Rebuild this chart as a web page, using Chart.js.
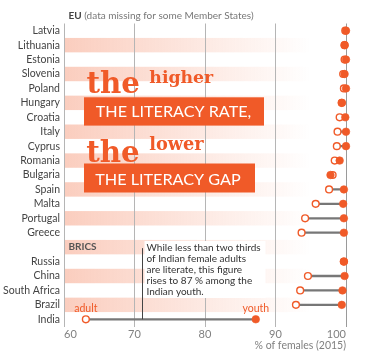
<!DOCTYPE html>
<html><head><meta charset="utf-8">
<script src="https://cdn.jsdelivr.net/npm/chart.js@4"></script>
<style>html,body{margin:0;padding:0;background:#fff;}#wrap{width:370px;height:358px;position:relative}</style>
</head><body><div id="wrap"><canvas id="c" width="370" height="358"></canvas></div>
<script>
// ---- data ----
const categories = ['Latvia','Lithuania','Estonia','Slovenia','Poland','Hungary','Croatia','Italy','Cyprus','Romania','Bulgaria','Spain','Malta','Portugal','Greece','','Russia','China','South Africa','Brazil','India'];
const groupLabels = ['EU','BRICS'];
const youth = [100,99.8,100,99.8,100,99.4,99.9,100,100,99.1,97.8,99.7,99.6,99.7,99.7,null,99.7,99.8,99.5,99.4,87.2];
const adult = [99.9,99.8,99.8,99.6,99.7,99.4,99.1,98.8,98.7,98.4,98.1,97.6,95.7,94.2,93.7,null,99.7,94.6,93.5,92.9,63.1];
const xTicks = [60,70,80,90,100];
const seriesNames = ['adult','youth'];
const noteLines = ['While less than two thirds','of Indian female adults','are literate, this figure','rises to 87 % among the','Indian youth.'];

const ORANGE = '#f05a28';
const SANS = 'Lato, "Open Sans", sans-serif';
const SERIF = '"DejaVu Serif", serif';
const connectors = categories.map((c,i)=> (adult[i]==null||youth[i]==null) ? null : [adult[i], youth[i]]);
const bricsIndex = categories.indexOf('');

function fitFont(ctx, text, weight, family, targetW){
  ctx.font = weight + ' 100px ' + family;
  const w = ctx.measureText(text).width;
  return weight + ' ' + (100*targetW/w).toFixed(2) + 'px ' + family;
}

const decor = {
  id:'decor',
  beforeDraw(chart){
    const {ctx, chartArea:a, scales:{x,y}} = chart;
    const h = y.getPixelForValue(1) - y.getPixelForValue(0);
    ctx.save();
    for (let i=1;i<categories.length;i+=2){
      const yc = y.getPixelForValue(i);
      const g = ctx.createLinearGradient(a.left,0,x.getPixelForValue(95),0);
      g.addColorStop(0,'rgba(240,90,40,0.30)');
      g.addColorStop(1,'rgba(240,90,40,0)');
      ctx.fillStyle = g;
      ctx.fillRect(a.left, yc-h/2, x.getPixelForValue(95)-a.left, h);
    }
    ctx.restore();
  },
  afterDraw(chart){
    const {ctx, chartArea:a, scales:{x,y}} = chart;
    ctx.save();
    // header
    ctx.textBaseline='middle';
    ctx.font = 'bold 10px '+SANS; ctx.fillStyle='#444';
    ctx.fillText(groupLabels[0], a.left+4.5, 15.7);
    const w0 = ctx.measureText(groupLabels[0]).width;
    ctx.font = '10px '+SANS; ctx.fillStyle='#777';
    ctx.fillText(' (data missing for some Member States)', a.left+4.5+w0, 15.7);
    // BRICS
    ctx.font = 'bold 10px '+SANS; ctx.fillStyle='#555';
    ctx.fillText(groupLabels[1], a.left+4.5, y.getPixelForValue(bricsIndex));
    // note box
    ctx.fillStyle='#fff';
    ctx.fillRect(144.5, 241, 121, 57);
    ctx.strokeStyle='#444'; ctx.lineWidth=1;
    const lx = Math.round(x.getPixelForValue(71.1))+0.5;
    ctx.beginPath(); ctx.moveTo(lx, y.getPixelForValue(bricsIndex)+1); ctx.lineTo(lx, y.getPixelForValue(categories.length-1)); ctx.stroke();
    ctx.font = '10px '+SANS; ctx.fillStyle='#333';
    noteLines.forEach((t,k)=>ctx.fillText(t, 146.5, 247.3 + k*11.1));
    // adult / youth labels
    const last = categories.length-1;
    ctx.textAlign='center'; ctx.font='10.5px '+SANS; ctx.fillStyle=ORANGE;
    ctx.fillText(seriesNames[0], x.getPixelForValue(adult[last]), y.getPixelForValue(last)-10.5);
    ctx.fillText(seriesNames[1], x.getPixelForValue(youth[last]), y.getPixelForValue(last)-10.5);
    ctx.textAlign='left'; ctx.textBaseline='alphabetic';
    // big slogans
    ctx.fillStyle=ORANGE;
    ctx.font = fitFont(ctx,'the','bold',SERIF,53.5); ctx.fillText('the',86.5,93);
    ctx.font = fitFont(ctx,'higher','bold',SERIF,64); ctx.fillText('higher',149.3,83.3);
    ctx.fillRect(84,97.3,180,28.3);
    ctx.font = fitFont(ctx,'the','bold',SERIF,53.5); ctx.fillText('the',86.2,161.5);
    ctx.font = fitFont(ctx,'lower','bold',SERIF,54.5); ctx.fillText('lower',149.2,150);
    ctx.fillRect(84,163.5,171,29);
    ctx.fillStyle='#fff';
    ctx.font = fitFont(ctx,'THE LITERACY RATE,','',SANS,155.5); ctx.fillText('THE LITERACY RATE,',95.8,116.7);
    ctx.font = fitFont(ctx,'THE LITERACY GAP','',SANS,145.7); ctx.fillText('THE LITERACY GAP',95.2,184.5);
    ctx.restore();
  }
};

new Chart(document.getElementById('c'), {
  type:'bar',
  data:{
    labels: categories,
    datasets:[
      {type:'bar', data: connectors, backgroundColor:'#777', barThickness:1.6, order:3, indexAxis:'y'},
      {type:'line', label:seriesNames[0], data: adult, showLine:false, indexAxis:'y', order:2, clip:false,
       pointRadius:3.4, pointBorderWidth:1.4, pointBackgroundColor:'#fff', pointBorderColor:ORANGE, pointHoverRadius:3.4},
      {type:'line', label:seriesNames[1], data: youth, showLine:false, indexAxis:'y', order:1, clip:false,
       pointRadius:3.8, pointBorderWidth:0.6, pointBackgroundColor:ORANGE, pointBorderColor:ORANGE, pointHoverRadius:3.8}
    ]
  },
  options:{
    indexAxis:'y', responsive:false, animation:false, devicePixelRatio:1,
    layout:{padding:{top:23.5,right:24,bottom:0,left:0}},
    plugins:{legend:{display:false}, tooltip:{enabled:false}},
    scales:{
      x:{type:'linear', min:60, max:100,
        afterBuildTicks(s){ s.ticks = xTicks.map(v=>({value:v})); },
        afterFit(s){ s.height = 31.5; },
        grid:{color:(c)=> c.tick && c.tick.value===100 ? '#9a9a9a' : '#b5b5b5', lineWidth:1, drawTicks:false},
        border:{display:false},
        ticks:{align:'inner', padding:1.5, color:'#808080', font:{family:'Lato', size:11}},
        title:{display:true, text:'% of females (2015)', align:'end', color:'#808080', font:{family:'Lato', size:10.5}, padding:{top:0,bottom:6.5}}
      },
      y:{type:'category', offset:true,
        afterFit(s){ s.width = 64; },
        grid:{display:false, drawTicks:false},
        border:{display:false},
        ticks:{padding:4, color:'#444', font:{family:'Lato', size:10.5}, autoSkip:false}
      }
    }
  },
  plugins:[decor]
});
</script></body></html>
